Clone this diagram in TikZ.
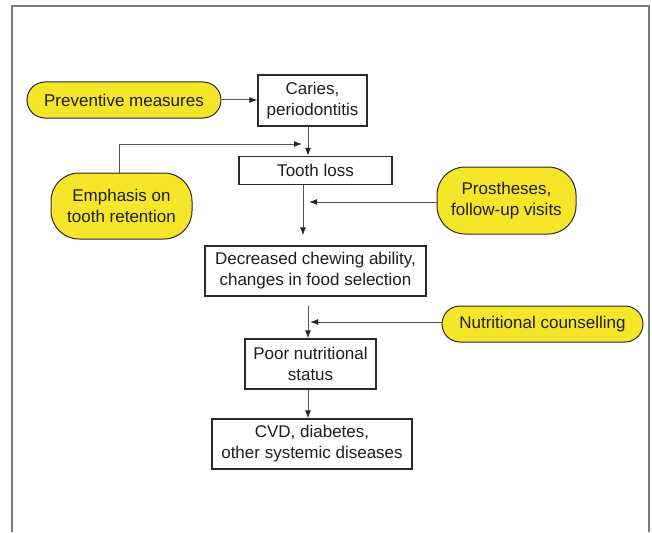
\documentclass[tikz,border=0pt]{standalone}
\usepackage{fontspec}
\setmainfont{Liberation Sans}
\usetikzlibrary{arrows.meta,calc}
\definecolor{padyellow}{HTML}{F5E62A}
\definecolor{framegray}{HTML}{7A7A7A}
\definecolor{linegray}{HTML}{555555}
\definecolor{boxline}{HTML}{2A2A2A}
\definecolor{txt}{HTML}{1E1E1E}
\tikzset{
  x=1pt, y=-1pt,
  every node/.style={font=\fontsize{17}{21}\selectfont, text=txt, align=center, inner sep=0pt},
  stepbox/.style={draw=boxline, line width=1.2pt, fill=white, rectangle},
  pill/.style={draw=boxline, line width=1pt, fill=padyellow, rectangle, rounded corners=#1},
  pill/.default=18pt,
  conn/.style={draw=linegray, line width=1pt, -{Latex[length=8pt,width=6pt,color=black!85]}},
}
\begin{document}
\begin{tikzpicture}
\useasboundingbox (0,0) rectangle (652,532);
\fill[white] (0,0) rectangle (652,532);
% outer frame (open at bottom)
\draw[framegray, line width=2pt] (12,532) -- (12,6) -- (649,6) -- (649,532);

% nodes
\node[pill, minimum width=194pt, minimum height=36pt] (prev) at (124,100) {Preventive measures};
\node[stepbox, minimum width=109pt, minimum height=51pt] (caries) at (312.5,100.5) {Caries,\\periodontitis};
\node[stepbox, minimum width=153pt, minimum height=28pt] (tooth) at (315.5,170.5) {Tooth loss};
\node[pill=28pt, minimum width=141pt, minimum height=66pt] (emph) at (121.5,206) {Emphasis on\\tooth retention};
\node[pill=28pt, minimum width=139pt, minimum height=67pt] (pros) at (506.5,200.5) {Prostheses,\\follow-up visits};
\node[stepbox, minimum width=221pt, minimum height=50pt] (decr) at (315.5,271) {Decreased chewing ability,\\changes in food selection};
\node[pill, minimum width=201pt, minimum height=36pt] (nutr) at (542.5,324) {Nutritional counselling};
\node[stepbox, minimum width=131pt, minimum height=50pt] (poor) at (310.5,364) {Poor nutritional\\status};
\node[stepbox, minimum width=200pt, minimum height=50pt] (cvd) at (312,444) {CVD, diabetes,\\other systemic diseases};

% guide coordinates
\coordinate (axisA) at (308,0);
\coordinate (axisB) at (303,0);
\coordinate (emtip) at (302,144);
\coordinate (prostip) at (309,202);
\coordinate (nutrtip) at (310,322);

% connectors
\draw[conn] (prev.east) -- (prev.east -| caries.west);
\draw[conn] (caries.south -| axisA) -- (tooth.north -| axisA);
\draw[conn] (emph.north -| 119,0) |- (emtip);
\draw[conn, shorten >=10pt] (tooth.south -| axisB) -- (decr.north -| axisB);
\draw[conn] (pros.west |- prostip) -- (prostip);
\draw[conn, shorten <=9pt] (decr.south -| axisA) -- (poor.north -| axisA);
\draw[conn] (nutr.west |- nutrtip) -- (nutrtip);
\draw[conn] (poor.south -| axisA) -- (cvd.north -| axisA);
\end{tikzpicture}
\end{document}
